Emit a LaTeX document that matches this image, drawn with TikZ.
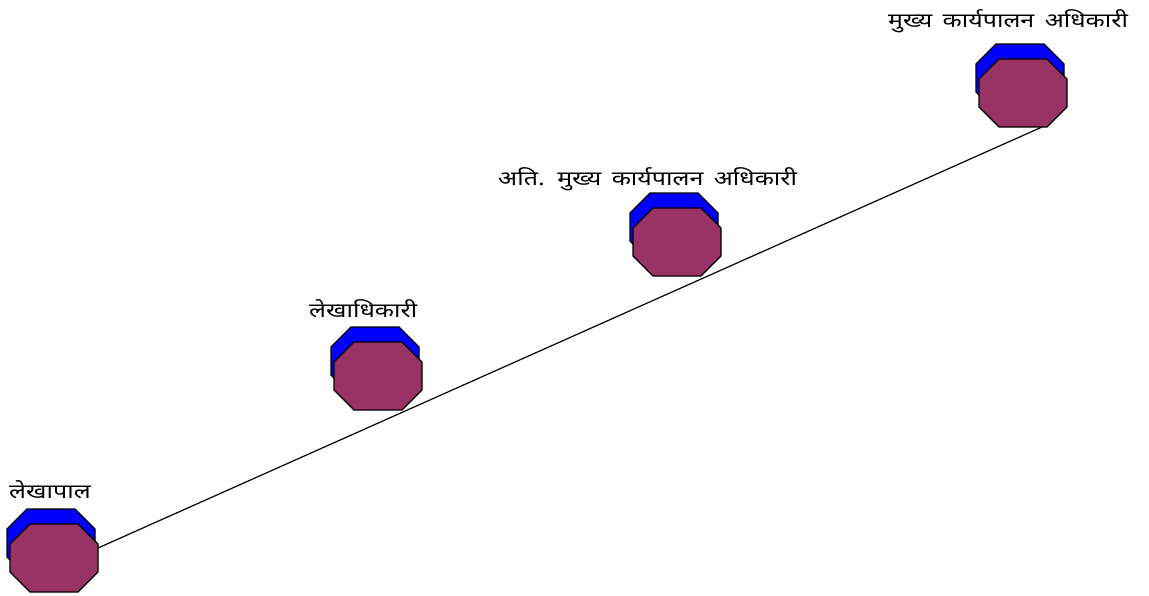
\documentclass[tikz,border=0pt]{standalone}
\usepackage{fontspec}
\newfontfamily\devfont[Script=Devanagari,FakeStretch=1.25,WordSpace=1.6]{Noto Sans}
\definecolor{maroonfill}{HTML}{993366}
\definecolor{bluefill}{HTML}{0000FF}
\tikzset{
  lbl/.style={font=\devfont\fontsize{20}{24}\selectfont, inner sep=0pt, anchor=base west},
  backoct/.style={fill=bluefill, draw=black, line width=1.2pt, line join=miter},
  frontoct/.style={fill=maroonfill, draw=black, line width=1.2pt, line join=miter},
  link/.style={draw=black, line width=1.2pt}
}
% octagon with top-left corner (#1,#2), width 88, height 68, chamfer 20
\newcommand\myoct[3]{%
  \path[#3] (#1+20,#2) -- (#1+68,#2) -- (#1+88,#2+20) -- (#1+88,#2+48)
    -- (#1+68,#2+68) -- (#1+20,#2+68) -- (#1,#2+48) -- (#1,#2+20) -- cycle;}
\newcommand\mystack[3]{%
  \myoct{#1-3}{#2-15}{backoct}
  \myoct{#1}{#2}{frontoct}
  \coordinate (#3) at (#1+44,#2+34);}
\begin{document}
\begin{tikzpicture}[x=1pt,y=-1pt]
\useasboundingbox (0,0) rectangle (1149,595);
\coordinate (lineA) at (98,548);
\coordinate (lineB) at (1042,127);
\draw[link] (lineA) -- (lineB);
\mystack{10}{524}{s1}
\mystack{334}{342}{s2}
\mystack{633}{208}{s3}
\mystack{979}{59}{s4}
\node[lbl] (t1) at (9,498) {लेखापाल};
\node[lbl] (t2) at (309,317) {लेखाधिकारी};
\node[lbl] (t3) at (498,185) {अति. मुख्य कार्यपालन अधिकारी};
\node[lbl] (t4) at (888,27) {मुख्य कार्यपालन अधिकारी};
\end{tikzpicture}
\end{document}
